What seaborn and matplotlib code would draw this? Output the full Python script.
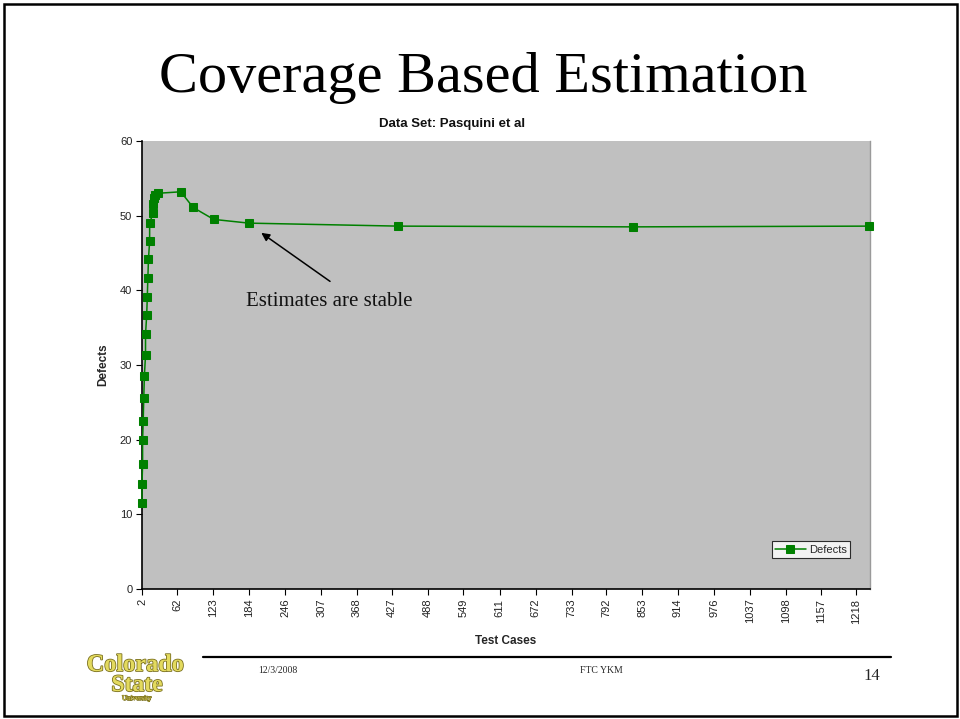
import matplotlib
matplotlib.use("Agg")
import matplotlib.pyplot as plt
import matplotlib.patheffects as pe
from matplotlib.patches import Rectangle
from matplotlib.lines import Line2D
import seaborn as sns
import pandas as pd

# Test cases executed vs. estimated number of defects
test_cases = [2, 2, 3, 3, 4, 5, 6, 8, 8, 10, 11, 12, 13, 15, 15,
              21, 21, 22, 24, 30, 68, 89, 124, 184, 438, 837, 1240]
defects = [11.5, 14.1, 16.7, 19.9, 22.5, 25.6, 28.5, 31.3, 34.1, 36.7, 39.1,
           41.7, 44.2, 46.6, 49.0, 50.4, 51.6, 52.3, 52.8, 53.0, 53.2, 51.1,
           49.5, 49.0, 48.6, 48.5, 48.6]
x_tick_labels = [2, 62, 123, 184, 246, 307, 368, 427, 488, 549, 611, 672,
                 733, 792, 853, 914, 976, 1037, 1098, 1157, 1218]
y_ticks = [0, 10, 20, 30, 40, 50, 60]

df = pd.DataFrame({"Test Cases": test_cases, "Defects": defects})

sns.set_style("white")
plt.rcParams["font.family"] = ["Liberation Sans", "DejaVu Sans"]

W, H = 960, 719
fig = plt.figure(figsize=(W / 100, H / 100), dpi=100)


def fx(px):
    return px / W


def fy(py):
    return 1 - py / H


# slide frame
fig.patches.append(Rectangle((fx(4), fy(716)), fx(953), (712) / H,
                             transform=fig.transFigure, fill=False,
                             edgecolor="black", linewidth=1.8))

# slide title
fig.text(fx(483), fy(92), "Coverage Based Estimation", ha="center",
         va="baseline", fontsize=42, family="Liberation Serif", color="black")

# chart
ax = fig.add_axes([fx(142), fy(589), (870 - 142) / W, (589 - 141) / H])
ax.set_facecolor("#C0C0C0")
sns.lineplot(data=df, x="Test Cases", y="Defects", ax=ax, estimator=None,
             sort=False, color="#008000", linewidth=1.1, marker="s",
             markersize=5.5, markeredgecolor="#008000", label="Defects",
             clip_on=False, zorder=5)

ax.set_xlim(2, 1241)
ax.set_ylim(0, 60)
ax.set_xticks(x_tick_labels)
ax.set_xticklabels([str(v) for v in x_tick_labels], rotation=90, fontsize=8)
ax.set_yticks(y_ticks)
ax.set_yticklabels([str(v) for v in y_ticks], fontsize=8)
ax.tick_params(axis="both", direction="out", length=4, width=0.8,
               color="black", pad=3, labelcolor="#222222")
ax.tick_params(axis="x", bottom=True)
ax.tick_params(axis="y", left=True)
for side in ("left", "bottom"):
    ax.spines[side].set_color("black")
    ax.spines[side].set_linewidth(1.2)
ax.spines["right"].set_color("#9a9a9a")
ax.spines["right"].set_linewidth(1.0)
ax.spines["top"].set_visible(False)

ax.set_xlabel("Test Cases", fontsize=8.5, fontweight="bold", labelpad=8)
ax.set_ylabel("Defects", fontsize=8.5, fontweight="bold", labelpad=8)

fig.text(fx(452), fy(124), "Data Set: Pasquini et al", ha="center",
         va="center", fontsize=9.5, fontweight="bold", color="#111111")

ax.annotate("", xy=(205, 47.7), xytext=(322, 41.2),
            arrowprops=dict(arrowstyle="-|>", color="black", lw=1.1,
                            mutation_scale=12, shrinkA=0, shrinkB=0))
ax.text(321, 37.9, "Estimates are stable", ha="center", va="baseline",
        fontsize=15, family="Liberation Serif", color="#111111")

leg = ax.legend(loc="lower right", bbox_to_anchor=(0.9725, 0.069),
                fontsize=8, frameon=True, fancybox=False, borderpad=0.3,
                handlelength=2.8, handletextpad=0.25, borderaxespad=0)
leg.get_frame().set_edgecolor("black")
leg.get_frame().set_facecolor("white")
leg.get_frame().set_linewidth(0.8)

# footer
fig.add_artist(Line2D([fx(203), fx(891)], [fy(657), fy(657)],
                      transform=fig.transFigure, color="black", linewidth=1.6))
fig.text(fx(258), fy(673), "12/3/2008", ha="left", va="baseline",
         fontsize=7, family="Liberation Serif")
fig.text(fx(580), fy(673), "FTC YKM", ha="left", va="baseline",
         fontsize=7, family="Liberation Serif")
fig.text(fx(872), fy(680), "14", ha="center", va="baseline",
         fontsize=12, family="Liberation Serif")

# university wordmark
outline = [pe.withStroke(linewidth=1.2, foreground="#7a7020")]
fig.text(fx(135), fy(671), "Colorado", ha="center", va="baseline",
         fontsize=17.5, fontweight="bold", family="Liberation Serif",
         color="#e3da5e", path_effects=outline)
fig.text(fx(137), fy(691), "State", ha="center", va="baseline",
         fontsize=17, fontweight="bold", family="Liberation Serif",
         color="#e3da5e", path_effects=outline)
fig.text(fx(137), fy(700), "University", ha="center", va="baseline",
         fontsize=5, family="Liberation Serif", color="#e3da5e",
         path_effects=[pe.withStroke(linewidth=0.8, foreground="#7a7020")])

fig.savefig("out.png", dpi=100)
